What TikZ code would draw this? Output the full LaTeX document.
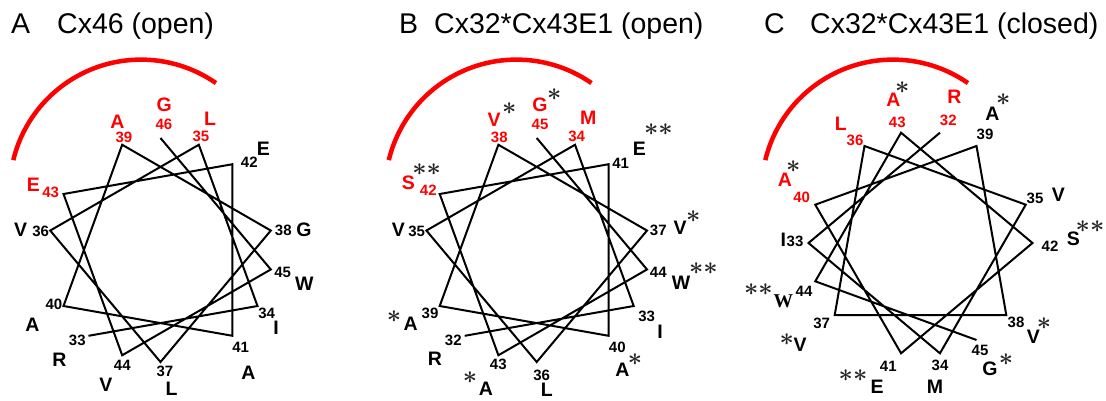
\documentclass[tikz,border=0pt]{standalone}
\usepackage{fontspec}
\setmainfont{Liberation Sans}
\newfontfamily\serifW{Liberation Serif}
\begin{document}
\begin{tikzpicture}[x=1pt,y=-1pt,
  wheel/.style={line width=2pt, line join=miter, draw=black},
  hl/.style={line width=4.5pt, draw=red},
  res/.style={font=\fontsize{19.5}{20}\selectfont\bfseries, inner sep=0pt},
  num/.style={font=\fontsize{15}{15}\selectfont\bfseries, inner sep=0pt},
  ast/.style={font=\fontsize{25}{25}\selectfont\boldmath, inner sep=0pt, text=black!85},
  ttl/.style={font=\fontsize{28.5}{29}\selectfont, inner sep=0pt, anchor=base west},
  hot/.style={text=red}]
\useasboundingbox (0,0) rectangle (1106,400);
% titles
\node[ttl] (tA) at (11,33.3) {A};
\node[ttl] (tAn) at (57,33.3) {Cx46 (open)};
\node[ttl] (tB) at (399,33.3) {B};
\node[ttl] (tBn) at (434,33.3) {Cx32*Cx43E1 (open)};
\node[ttl] (tC) at (764,33.3) {C};
\node[ttl] (tCn) at (810,33.3) {Cx32*Cx43E1 (closed)};
% arcs
\draw[hl] ([shift={(141,191)}]-55.2:131.4) arc[start angle=-55.2, end angle=-166.4, radius=131.4];
\draw[hl] ([shift={(516.5,191)}]-55.2:131.4) arc[start angle=-55.2, end angle=-166.4, radius=131.4];
\draw[hl] ([shift={(893,191)}]-55.2:131.4) arc[start angle=-55.2, end angle=-166.4, radius=131.4];
% wheel A
\begin{scope}[shift={(160.5,250)}]
\foreach \n in {33,...,46} \coordinate (a\n) at ({-(230+100*(\n-33))}:112);
\end{scope}
\draw[wheel] (a33) \foreach \n in {34,...,46} {-- (a\n)};
% wheel B
\begin{scope}[shift={(536.7,250)}]
\foreach \n in {32,...,45} \coordinate (b\n) at ({-(230+100*(\n-32))}:112);
\end{scope}
\draw[wheel] (b32) \foreach \n in {33,...,45} {-- (b\n)};
% wheel C
\begin{scope}[shift={(920.5,243)}]
\foreach \n in {32,...,45} \coordinate (c\n) at ({-(80+100*(\n-32))}:112);
\end{scope}
\draw[wheel] (c32) \foreach \n in {33,...,45} {-- (c\n)};
% labels A
\node[res,hot] (aL39) at (117.3,121.7) {A}; \node[num,hot] (aN39) at (124,137.3) {39};
\node[res,hot] (aL46) at (164.3,105) {G}; \node[num,hot] (aN46) at (164,124) {46};
\node[res,hot] (aL35) at (210,118.3) {L}; \node[num,hot] (aN35) at (201,136.7) {35};
\node[res] (aL42) at (263.3,148.3) {E}; \node[num] (aN42) at (249.3,162.7) {42};
\node[res] (aL38) at (304,229.3) {G}; \node[num] (aN38) at (283.3,230) {38};
\node[res] (aL45) at (304.3,284) {W}; \node[num] (aN45) at (282.7,272.7) {45};
\node[res] (aL34) at (276,327.7) {I}; \node[num] (aN34) at (266.7,313.3) {34};
\node[res] (aL41) at (248.3,372.3) {A}; \node[num] (aN41) at (240.7,347.3) {41};
\node[res] (aL37) at (171.7,388.3) {L}; \node[num] (aN37) at (165,371.7) {37};
\node[res] (aL44) at (106,385) {V}; \node[num] (aN44) at (122.3,365) {44};
\node[res] (aL33) at (59.3,359.3) {R}; \node[num] (aN33) at (77.3,340.7) {33};
\node[res] (aL40) at (32.3,325) {A}; \node[num] (aN40) at (54,304) {40};
\node[res] (aL36) at (20.7,230) {V}; \node[num] (aN36) at (40.7,231) {36};
\node[res,hot] (aL43) at (33.3,185) {E}; \node[num,hot] (aN43) at (50.7,192.7) {43};
% labels B
\node[res,hot] (bL38) at (494,120) {V}; \node[ast] (bS38) at (509.3,108.3) {$\ast$}; \node[num,hot] (bN38) at (499.3,137.3) {38};
\node[res,hot] (bL45) at (540,105) {G}; \node[ast] (bS45) at (554.3,95) {$\ast$}; \node[num,hot] (bN45) at (540,124) {45};
\node[res,hot] (bL34) at (588.3,117.3) {M}; \node[num,hot] (bN34) at (576.7,136.7) {34};
\node[res] (bL41) at (639.3,148.3) {E}; \node[ast] (bS41) at (658.3,130) {$\ast\ast$}; \node[num] (bN41) at (620.7,163.3) {41};
\node[res] (bL37) at (680,227.7) {V}; \node[ast] (bS37) at (693.3,216.7) {$\ast$}; \node[num] (bN37) at (658.3,230) {37};
\node[res] (bL44) at (681,282.7) {W}; \node[ast] (bS44) at (703.3,268.3) {$\ast\ast$}; \node[num] (bN44) at (658.3,272.7) {44};
\node[res] (bL33) at (660,331.7) {I}; \node[num] (bN33) at (646.7,316.7) {33};
\node[res] (bL40) at (622.3,370) {A}; \node[ast] (bS40) at (635,360) {$\ast$}; \node[num] (bN40) at (617.3,347.3) {40};
\node[res] (bL36) at (546.7,390) {L}; \node[num] (bN36) at (541.7,375) {36};
\node[res] (bL43) at (486,388.3) {A}; \node[ast] (bS43) at (470,377.5) {$\ast$}; \node[num] (bN43) at (498.3,364.3) {43};
\node[res] (bL32) at (435,358.3) {R}; \node[num] (bN32) at (453.3,340) {32};
\node[res] (bL39) at (410.7,323.3) {A}; \node[ast] (bS39) at (394,316.7) {$\ast$}; \node[num] (bN39) at (430,313.3) {39};
\node[res] (bL35) at (398.3,230) {V}; \node[num] (bN35) at (416.7,231) {35};
\node[res,hot] (bL42) at (408.3,182.7) {S}; \node[ast] (bS42) at (426.7,170) {$\ast\ast$}; \node[num,hot] (bN42) at (428.3,190.7) {42};
% labels C
\node[res,hot] (cL43) at (893.3,100) {A}; \node[ast] (cS43) at (902.3,87.3) {$\ast$}; \node[num,hot] (cN43) at (897.3,122.3) {43};
\node[res,hot] (cL36) at (840.7,123.3) {L}; \node[num,hot] (cN36) at (855,140) {36};
\node[res,hot] (cL32) at (954.3,96.7) {R}; \node[num,hot] (cN32) at (948.3,120) {32};
\node[res] (cL39) at (992.3,113.3) {A}; \node[ast] (cS39) at (1003.3,100) {$\ast$}; \node[num] (cN39) at (985,134.3) {39};
\node[res] (cL35) at (1058.3,195) {V}; \node[num] (cN35) at (1035,198.3) {35};
\node[res] (cL42) at (1073.3,238.3) {S}; \node[ast] (cS42) at (1090,226.7) {$\ast\ast$}; \node[num] (cN42) at (1050,246) {42};
\node[res] (cL38) at (1033.3,336.7) {V}; \node[ast] (cS38) at (1044,324) {$\ast$}; \node[num] (cN38) at (1016,322.7) {38};
\node[res] (cL45) at (990,368.3) {G}; \node[ast] (cS45) at (1006,360) {$\ast$}; \node[num] (cN45) at (980,350) {45};
\node[res] (cL34) at (935,386.7) {M}; \node[num] (cN34) at (940,365) {34};
\node[res] (cL41) at (877,386.7) {E}; \node[ast] (cS41) at (853,376) {$\ast\ast$}; \node[num] (cN41) at (888.3,366) {41};
\node[res] (cL37) at (800,345) {V}; \node[ast] (cS37) at (786.7,339.3) {$\ast$}; \node[num] (cN37) at (821.7,323.3) {37};
\node[res,font=\fontsize{19.5}{20}\selectfont\serifW\bfseries] (cL44) at (783.3,301) {W}; \node[ast] (cS44) at (758.3,290) {$\ast\ast$}; \node[num] (cN44) at (804,291.5) {44};
\node[res] (cL33) at (783.3,239.3) {I}; \node[num] (cN33) at (795,241) {33};
\node[res,hot] (cL40) at (785,179.3) {A}; \node[ast] (cS40) at (793.3,166.7) {$\ast$}; \node[num,hot] (cN40) at (801.7,197.3) {40};
\end{tikzpicture}
\end{document}
